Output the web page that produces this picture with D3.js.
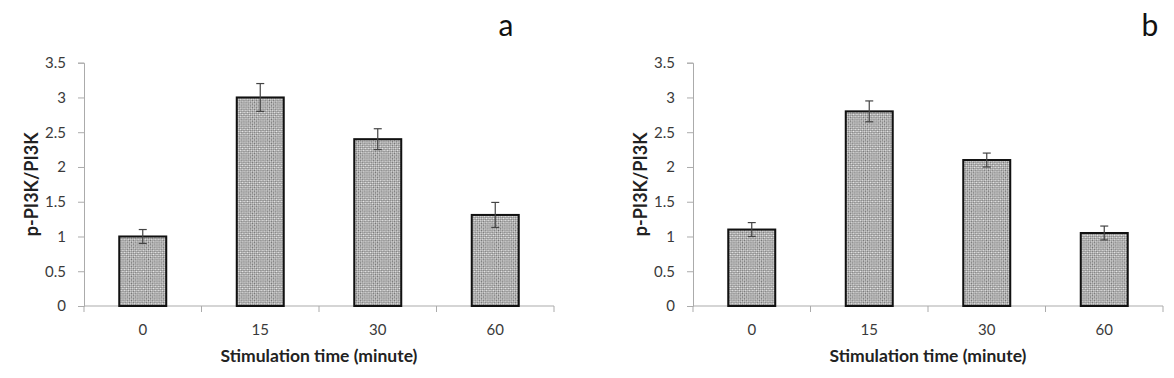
<!DOCTYPE html>
<html><head><meta charset="utf-8">
<script src="https://cdn.jsdelivr.net/npm/d3@7"></script>
<style>body{margin:0;background:#fff}svg{display:block}</style>
</head><body>
<svg id="c" width="1174" height="378"></svg>
<script>
const categories = ["0","15","30","60"];
const valuesA = [1.0, 3.0, 2.4, 1.31];
const errorsA = [0.1, 0.2, 0.15, 0.18];
const valuesB = [1.1, 2.8, 2.1, 1.05];
const errorsB = [0.1, 0.15, 0.1, 0.1];
const yTicks = [0, 0.5, 1, 1.5, 2, 2.5, 3, 3.5];
const panelLabels = ["a", "b"];
const yTitle = "p-PI3K/PI3K";
const xTitle = "Stimulation time (minute)";

const svg = d3.select("#c");
const defs = svg.append("defs");
const pat = defs.append("pattern").attr("id","hatch").attr("patternUnits","userSpaceOnUse")
  .attr("width",3).attr("height",3).attr("patternTransform","rotate(45)");
pat.append("rect").attr("width",3).attr("height",3).attr("fill","#ebebeb");
pat.append("rect").attr("width",1.5).attr("height",1.5).attr("fill","#707070");
pat.append("rect").attr("x",1.5).attr("y",1.5).attr("width",1.5).attr("height",1.5).attr("fill","#707070");

const font = "Lato, 'Open Sans', sans-serif";
const panels = [
  {x0:84, x1:554, vals:valuesA, errs:errorsA, label:panelLabels[0], lx:506},
  {x0:693, x1:1163, vals:valuesB, errs:errorsB, label:panelLabels[1], lx:1150}
];
const yTop = 62.7, yBot = 306;

panels.forEach(p => {
  const g = svg.append("g");
  const x = d3.scaleBand().domain(categories).range([p.x0, p.x1]).paddingInner(0.6).paddingOuter(0.3);
  const y = d3.scaleLinear().domain([0, 3.5]).range([yBot, yTop]);

  // y axis
  const ya = g.append("g").attr("transform",`translate(${p.x0},0)`)
    .call(d3.axisLeft(y).tickValues(yTicks).tickSize(6).tickPadding(12).tickFormat(d=>String(d)));
  ya.select(".domain").attr("stroke","#ababab");
  ya.selectAll(".tick line").attr("stroke","#ababab");
  ya.selectAll("text").attr("font-family",font).attr("font-size",15).attr("fill","#3a3a3a");

  // x axis: ticks at category boundaries
  const step = (p.x1 - p.x0)/categories.length;
  g.append("line").attr("x1",p.x0).attr("x2",p.x1).attr("y1",yBot).attr("y2",yBot).attr("stroke","#ababab");
  d3.range(categories.length+1).forEach(i=>{
    g.append("line").attr("x1",p.x0+i*step).attr("x2",p.x0+i*step).attr("y1",yBot).attr("y2",yBot+6).attr("stroke","#ababab");
  });
  g.selectAll(".xl").data(categories).join("text")
    .attr("x",d=>x(d)+x.bandwidth()/2).attr("y",335)
    .attr("text-anchor","middle").attr("font-family",font).attr("font-size",15).attr("fill","#3a3a3a").text(d=>d);

  // bars
  g.selectAll(".bar").data(categories).join("rect")
    .attr("x",d=>x(d)).attr("width",x.bandwidth())
    .attr("y",(d,i)=>y(p.vals[i])).attr("height",(d,i)=>yBot-y(p.vals[i]))
    .attr("fill","url(#hatch)").attr("stroke","#111").attr("stroke-width",2);

  // error bars
  categories.forEach((d,i)=>{
    const cx = x(d)+x.bandwidth()/2;
    const hi = y(p.vals[i]+p.errs[i]), lo = y(p.vals[i]-p.errs[i]);
    g.append("line").attr("x1",cx).attr("x2",cx).attr("y1",hi).attr("y2",lo).attr("stroke","#444").attr("stroke-width",1.2);
    [hi,lo].forEach(yy=>g.append("line").attr("x1",cx-4).attr("x2",cx+4).attr("y1",yy).attr("y2",yy).attr("stroke","#444").attr("stroke-width",1.2));
  });

  // titles
  g.append("text").attr("transform",`translate(${p.x0-46},${(yTop+yBot)/2}) rotate(-90)`)
    .attr("text-anchor","middle").attr("font-family",font).attr("font-weight","bold").attr("font-size",18).attr("fill","#222").text(yTitle);
  g.append("text").attr("x",(p.x0+p.x1)/2).attr("y",362).attr("text-anchor","middle")
    .attr("font-family",font).attr("font-weight","bold").attr("font-size",17.5).attr("fill","#222").text(xTitle);
  g.append("text").attr("x",p.lx).attr("y",36).attr("text-anchor","middle")
    .attr("font-family",font).attr("font-size",30).attr("fill","#111").text(p.label);
});
</script>
</body></html>
